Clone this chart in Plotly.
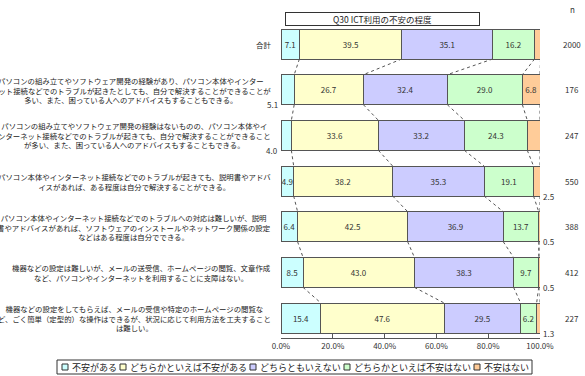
import plotly.graph_objects as go

categories = [
    "合計",
    "パソコンの組み立てやソフトウェア開発の経験があり、パソコン本体やインター<br>ネット接続などでのトラブルが起きたとしても、自分で解決することができることが<br>多い、また、困っている人へのアドバイスもすることもできる。",
    "パソコンの組み立てやソフトウェア開発の経験はないものの、パソコン本体やイ<br>ンターネット接続などでのトラブルが起きても、自分で解決することができること<br>が多い、また、困っている人へのアドバイスもすることもできる。",
    "パソコン本体やインターネット接続などでのトラブルが起きても、説明書やアドバ<br>イスがあれば、ある程度は自分で解決することができる。",
    "パソコン本体やインターネット接続などでのトラブルへの対応は難しいが、説明<br>書やアドバイスがあれば、ソフトウェアのインストールやネットワーク関係の設定<br>などはある程度は自分でできる。",
    "機器などの設定は難しいが、メールの送受信、ホームページの閲覧、文章作成<br>など、パソコンやインターネットを利用することに支障はない。",
    "機器などの設定をしてもらえば、メールの受信や特定のホームページの閲覧な<br>ど、ごく簡単（定型的）な操作はできるが、状況に応じて利用方法を工夫すること<br>は難しい。",
]
series_names = ["不安がある", "どちらかといえば不安がある", "どちらともいえない",
                "どちらかといえば不安はない", "不安はない"]
s1 = [7.1, 5.1, 4.0, 4.9, 6.4, 8.5, 15.4]
s2 = [39.5, 26.7, 33.6, 38.2, 42.5, 43.0, 47.6]
s3 = [35.1, 32.4, 33.2, 35.3, 36.9, 38.3, 29.5]
s4 = [16.2, 29.0, 24.3, 19.1, 13.7, 9.7, 6.2]
s5 = [2.3, 6.8, 4.9, 2.5, 0.5, 0.5, 1.3]
n_values = ["2000", "176", "247", "550", "388", "412", "227"]
title_text = "Q30 ICT利用の不安の程度"
tick_vals = [0, 20, 40, 60, 80, 100]
tick_text = ["0.0%", "20.0%", "40.0%", "60.0%", "80.0%", "100.0%"]

# style
colors = ["#CCFFFF", "#FFFFCC", "#CCCCFF", "#CCFFCC", "#FFCC99"]
outside_first = {1, 2}
outside_last = {0, 2, 3, 4, 5, 6}
FONT = "Noto Sans CJK JP"
BW = 0.657
W, H = 585, 376
ML, MR, MT, MB = 281, 45, 21, 38
PW, PH = W - ML - MR, H - MT - MB


def px_x(p):
    return (p - ML) / PW


def px_y(p):
    return (H - MB - p) / PH


series = [s1, s2, s3, s4, s5]
rows = list(range(len(categories)))

fig = go.Figure()
for si, (name, vals) in enumerate(zip(series_names, series)):
    texts = []
    for ri, v in enumerate(vals):
        if (si == 0 and ri in outside_first) or (si == 4 and ri in outside_last):
            texts.append("")
        else:
            texts.append(f"{v:.1f}")
    fig.add_trace(go.Bar(
        y=rows, x=vals, orientation="h", name=name,
        width=BW, marker=dict(color=colors[si], line=dict(color="#555555", width=1)),
        text=texts, textposition="inside", insidetextanchor="middle",
        constraintext="none", textangle=0,
        textfont=dict(size=8, color="#333333", family=FONT),
        hoverinfo="skip", showlegend=False,
    ))

# connector dotted lines between cumulative boundaries
cums = []
for ri in rows:
    c, acc = [], 0.0
    for s in series:
        acc += s[ri]
        c.append(acc)
    cums.append(c)
lx, ly = [], []
for ri in rows[:-1]:
    for k in range(len(series)):
        lx += [cums[ri][k], cums[ri + 1][k], None]
        ly += [ri + BW / 2, ri + 1 - BW / 2, None]
fig.add_trace(go.Scatter(x=lx, y=ly, mode="lines", showlegend=False, hoverinfo="skip",
                         line=dict(color="#555555", width=1, dash="dot")))

ann = []
shapes = []
for ri in rows:
    ann.append(dict(x=px_x(273), xref="paper", y=ri, yref="y", text=categories[ri],
                    xanchor="right", yanchor="middle", align="center", showarrow=False,
                    font=dict(size=7.4, color="#222222", family=FONT)))
    ann.append(dict(x=px_x(572), xref="paper", y=ri, yref="y", text=n_values[ri],
                    xanchor="center", yanchor="middle", showarrow=False,
                    font=dict(size=8, color="#333333", family=FONT)))
    if ri in outside_first:
        ann.append(dict(x=0, xref="x", y=ri + BW / 2, yref="y", text=f"{s1[ri]:.1f}",
                        xanchor="right", yanchor="middle", showarrow=False, xshift=-1,
                        font=dict(size=8, color="#333333", family=FONT)))
    if ri in outside_last:
        ann.append(dict(x=cums[ri][-1], xref="x", y=ri + BW / 2, yref="y", text=f"{s5[ri]:.1f}",
                        xanchor="left", yanchor="middle", showarrow=False, xshift=1,
                        font=dict(size=8, color="#333333", family=FONT)))
ann.append(dict(x=px_x(382), xref="paper", y=px_y(19), yref="paper", text=title_text,
                xanchor="center", yanchor="middle", showarrow=False, width=193, height=12,
                bordercolor="#333333", borderwidth=1, borderpad=0,
                font=dict(size=8.5, color="#222222", family=FONT)))
ann.append(dict(x=px_x(572), xref="paper", y=px_y(10), yref="paper", text="n",
                xanchor="center", yanchor="middle", showarrow=False,
                font=dict(size=8, color="#333333", family=FONT)))

# legend (drawn manually to keep a single compact row)
LF = 9
lg_top, lg_bot = 360, 374
lg_mid = (lg_top + lg_bot) / 2
cursor = 62
for si, name in enumerate(series_names):
    shapes.append(dict(type="rect", xref="paper", yref="paper",
                       x0=px_x(cursor), x1=px_x(cursor + 6),
                       y0=px_y(lg_mid - 3), y1=px_y(lg_mid + 3),
                       fillcolor=colors[si], line=dict(color="#333333", width=1)))
    ann.append(dict(x=px_x(cursor + 8), xref="paper", y=px_y(lg_mid), yref="paper",
                    text=name, xanchor="left", yanchor="middle", showarrow=False,
                    font=dict(size=LF, color="#222222", family=FONT)))
    cursor += 8 + len(name) * LF + 5
shapes.append(dict(type="rect", xref="paper", yref="paper",
                   x0=px_x(57), x1=px_x(cursor), y0=px_y(lg_top), y1=px_y(lg_bot),
                   line=dict(color="#333333", width=1), fillcolor="rgba(0,0,0,0)"))

fig.update_layout(
    width=W, height=H,
    margin=dict(l=ML, r=MR, t=MT, b=MB),
    barmode="stack",
    paper_bgcolor="white", plot_bgcolor="white",
    font=dict(family=FONT, size=8, color="#333333"),
    xaxis=dict(range=[0, 100], tickvals=tick_vals, ticktext=tick_text,
               showgrid=False, zeroline=False, showline=True, linecolor="#555555",
               ticks="inside", ticklen=4, tickcolor="#555555",
               tickfont=dict(size=8, color="#333333", family=FONT)),
    yaxis=dict(range=[6.438, -0.504], showticklabels=False, showgrid=False,
               zeroline=False, showline=False, ticks=""),
    showlegend=False,
    annotations=ann,
    shapes=shapes,
)

fig.write_html("out.html")
